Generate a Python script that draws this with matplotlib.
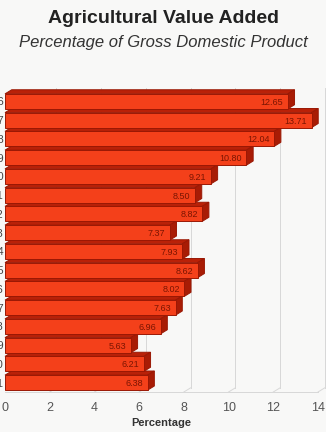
import matplotlib.pyplot as plt
from matplotlib.patches import Polygon

# --- data ---
years = ['1996', '1997', '1998', '1999', '2000', '2001', '2002', '2003',
         '2004', '2005', '2006', '2007', '2008', '2009', '2010', '2011']
values = [12.65, 13.71, 12.04, 10.80, 9.21, 8.50, 8.82, 7.37,
          7.93, 8.62, 8.02, 7.63, 6.96, 5.63, 6.21, 6.38]
x_ticks = [0, 2, 4, 6, 8, 10, 12, 14]

front = '#f4401a'
top_face = '#b92108'
side_face = '#a81c05'
edge = '#9a1804'

plt.rcParams['font.family'] = ['Liberation Sans', 'DejaVu Sans']

fig = plt.figure(figsize=(3.26, 4.32), dpi=100, facecolor='#f8f8f7')
ax = fig.add_axes([5 / 326, 40 / 432, 313 / 326, 300 / 432])
ax.set_facecolor('none')

n = len(values)
h = 0.80
dx, dy = 0.3, 0.22

ax.set_xlim(0, 14)
ax.set_ylim(n - 0.5, -0.5)

# back wall gridlines
for t in x_ticks[1:]:
    ax.plot([t + dx, t + dx], [n - 0.5 - dy, -0.5 - dy], color='#d8d8d8',
            lw=0.7, zorder=0, clip_on=False)
    ax.plot([t, t + dx], [n - 0.5, n - 0.5 - dy], color='#d8d8d8',
            lw=0.7, zorder=0, clip_on=False)
ax.plot([0, 14], [n - 0.5, n - 0.5], color='#d8d8d8', lw=0.7, zorder=0, clip_on=False)

# bars, drawn from bottom to top so upper bars cover the lower ones
for i in range(n - 1, -1, -1):
    v = values[i]
    y0 = i - h / 2
    y1 = i + h / 2
    z = 10 + (n - i) * 3
    topp = Polygon([(0, y0), (v, y0), (v + dx, y0 - dy), (dx, y0 - dy)],
                   closed=True, fc=top_face, ec=edge, lw=0.7, zorder=z, clip_on=False)
    side = Polygon([(v, y0), (v + dx, y0 - dy), (v + dx, y1 - dy), (v, y1)],
                   closed=True, fc=side_face, ec=edge, lw=0.7, zorder=z, clip_on=False)
    ax.add_patch(topp)
    ax.add_patch(side)
    ax.barh(i, v, height=h, color=front, edgecolor=edge, lw=0.7, zorder=z + 1)
    ax.text(v - 0.2, i + 0.05, f'{v:.2f}', ha='right', va='center',
            fontsize=6.5, color='#7a1502', zorder=z + 2)

ax.set_yticks(range(n))
ax.set_yticklabels(years, fontsize=8, color='#444444')
ax.tick_params(axis='y', length=0, pad=1)
ax.set_xticks(x_ticks)
ax.set_xticklabels([str(t) for t in x_ticks], fontsize=9, color='#555555')
ax.tick_params(axis='x', length=0, pad=7)
for s in ax.spines.values():
    s.set_visible(False)

ax.set_xlabel('Percentage', fontsize=8, fontweight='bold', color='#333333', labelpad=3)

fig.text(0.5, 0.958, 'Agricultural Value Added', ha='center', va='center',
         fontsize=14, fontweight='bold', color='#222222')
fig.text(0.5, 0.902, 'Percentage of Gross Domestic Product', ha='center', va='center',
         fontsize=12, style='italic', color='#333333')

fig.savefig('out.png', dpi=100, facecolor=fig.get_facecolor())
